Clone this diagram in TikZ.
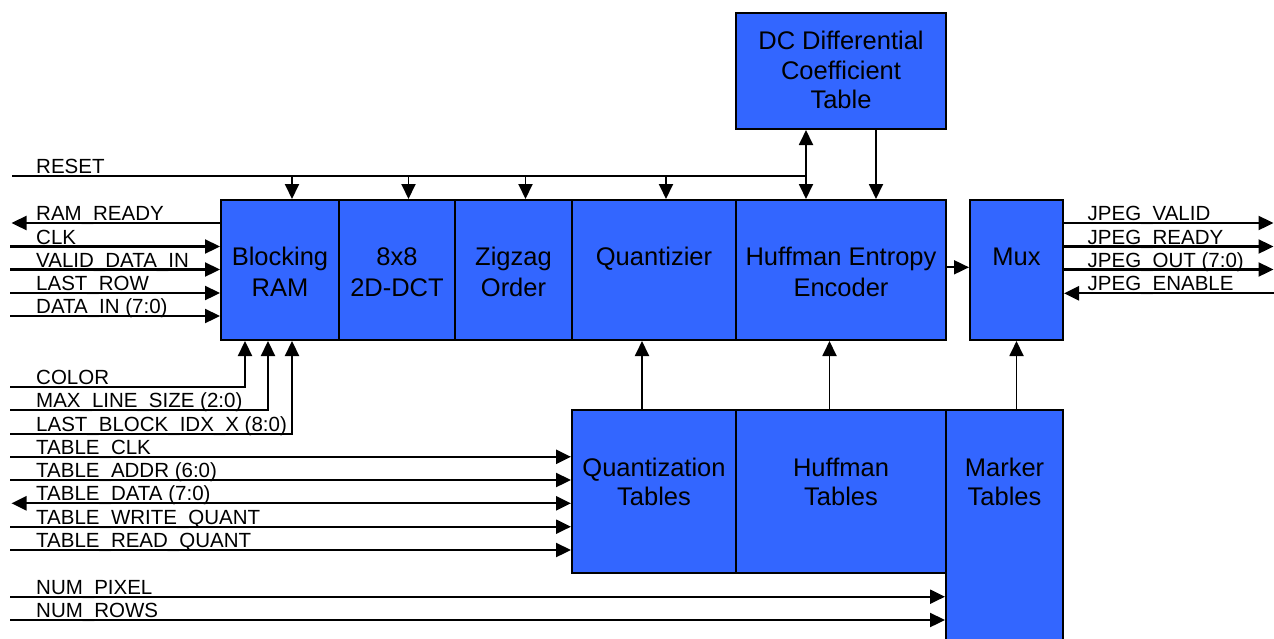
\documentclass[tikz,border=0pt]{standalone}
\usepackage{fontspec}
\setmainfont{Liberation Sans}
\usetikzlibrary{arrows.meta}
\definecolor{boxblue}{RGB}{51,102,255}
\begin{document}
\begin{tikzpicture}[x=1pt,y=-1pt,
  >={Triangle[length=15pt,width=14pt]},
  box/.style={draw=black,fill=boxblue,line width=2pt,inner sep=0pt},
  btxt/.style={font=\fontsize{25.5}{30}\selectfont,anchor=base,inner sep=0pt},
  lbl/.style={font=\fontsize{20.5}{24}\selectfont,anchor=base west,inner sep=0pt},
  sig/.style={line width=2.3pt},
  vsig/.style={line width=1.9pt}]
\useasboundingbox (0,0) rectangle (1274,638);

% ---------- blocks ----------
\node[box,minimum width=118pt,minimum height=140pt] (bram) at (280,270) {};
\node[box,minimum width=116pt,minimum height=140pt] (dct)  at (397,270) {};
\node[box,minimum width=117pt,minimum height=140pt] (zig)  at (513.5,270) {};
\node[box,minimum width=164pt,minimum height=140pt] (quant) at (654,270) {};
\node[box,minimum width=210pt,minimum height=140pt] (huff) at (841,270) {};
\node[box,minimum width=93pt,minimum height=140pt]  (mux)  at (1016.5,270) {};
\node[box,minimum width=210pt,minimum height=116pt] (dc)   at (841,71) {};
\node[box,minimum width=164pt,minimum height=163pt] (qt)   at (654,491.5) {};
\node[box,minimum width=210pt,minimum height=163pt] (ht)   at (841,491.5) {};
\node[box,minimum width=117pt,minimum height=235pt] (mt)   at (1004.5,527.5) {};

% ---------- block texts ----------
\node[btxt] (t1a) at (280,265) {Blocking};
\node[btxt] (t1b) at (280,296) {RAM};
\node[btxt] (t2a) at (397,265) {8x8};
\node[btxt] (t2b) at (397,296) {2D-DCT};
\node[btxt] (t3a) at (513.5,265) {Zigzag};
\node[btxt] (t3b) at (513.5,296) {Order};
\node[btxt] (t4a) at (654,265) {Quantizier};
\node[btxt] (t5a) at (841,265) {Huffman Entropy};
\node[btxt] (t5b) at (841,296) {Encoder};
\node[btxt] (t6a) at (1016.5,265) {Mux};
\node[btxt] (t7a) at (841,49.5) {DC Differential};
\node[btxt] (t7b) at (841,79) {Coefficient};
\node[btxt] (t7c) at (841,108.5) {Table};
\node[btxt] (t8a) at (654,476) {Quantization};
\node[btxt] (t8b) at (654,505.5) {Tables};
\node[btxt] (t9a) at (841,476) {Huffman};
\node[btxt] (t9b) at (841,505.5) {Tables};
\node[btxt] (t10a) at (1004.5,476) {Marker};
\node[btxt] (t10b) at (1004.5,505.5) {Tables};

% ---------- free ends ----------
\coordinate (iRST) at (12,176);
\coordinate (iRR)  at (11.5,223);
\coordinate (iCLK) at (10,246.5);
\coordinate (iVAL) at (10,269.5);
\coordinate (iLR)  at (10,293);
\coordinate (iDIN) at (10,316);
\coordinate (iCOL) at (10,387);
\coordinate (iMAX) at (10,410.3);
\coordinate (iLB)  at (10,433.7);
\coordinate (iTCLK) at (10,456.8);
\coordinate (iTADR) at (10,480);
\coordinate (iTDAT) at (11.5,503.3);
\coordinate (iTWR) at (10,526.7);
\coordinate (iTRD) at (10,550);
\coordinate (iNP)  at (10,596.7);
\coordinate (iNR)  at (10,620);
\coordinate (oJV)  at (1273.5,223);
\coordinate (oJR)  at (1273.5,246.5);
\coordinate (oJO)  at (1273.5,269.5);
\coordinate (oJE)  at (1274,293.3);

% attachment points
\coordinate (aB) at ([xshift=12pt]bram.north);
\coordinate (aD) at ([xshift=11.5pt]dct.north);
\coordinate (aZ) at ([xshift=12pt]zig.north);
\coordinate (aQ) at ([xshift=12pt]quant.north);
\coordinate (aH) at ([xshift=-35pt]huff.north);
\coordinate (aDC) at ([xshift=-35pt]dc.south);
\coordinate (aDC2) at ([xshift=35pt]dc.south);
\coordinate (aH2) at ([xshift=35pt]huff.north);
\coordinate (bC) at ([xshift=-35pt]bram.south);
\coordinate (bM) at ([xshift=-12pt]bram.south);
\coordinate (bL) at ([xshift=12pt]bram.south);
\coordinate (qU) at ([xshift=-12pt]quant.south);
\coordinate (qD) at ([xshift=-12pt]qt.north);
\coordinate (hU) at ([xshift=-11.5pt]huff.south);
\coordinate (hD) at ([xshift=-11.5pt]ht.north);

% ---------- RESET ----------
\draw[vsig] (iRST) -- (aH |- iRST);
\draw[vsig,->] (aB |- iRST) -- (aB);
\draw[vsig,->] (aD |- iRST) -- (aD);
\draw[vsig,->] (aZ |- iRST) -- (aZ);
\draw[vsig,->] (aQ |- iRST) -- (aQ);
\draw[vsig,<->] (aDC) -- (aH);
\draw[vsig,->] (aDC2) -- (aH2);
\node[lbl] (lRST) at (36,173.5) {RESET};

% ---------- left inputs to Blocking RAM ----------
\draw[sig,->] (bram.west |- iRR) -- (iRR);
\draw[sig,->] (iCLK) -- (iCLK -| bram.west);
\draw[sig,->] (iVAL) -- (iVAL -| bram.west);
\draw[sig,->] (iLR) -- (iLR -| bram.west);
\draw[sig,->] (iDIN) -- (iDIN -| bram.west);
\node[lbl] (lRR)  at (36,220.5) {RAM\_READY};
\node[lbl] (lCLK) at (36,244) {CLK};
\node[lbl] (lVAL) at (36,267) {VALID\_DATA\_IN};
\node[lbl] (lLR)  at (36,290.5) {LAST\_ROW};
\node[lbl] (lDIN) at (36,313.5) {DATA\_IN (7:0)};

% ---------- bottom inputs to Blocking RAM ----------
\draw[sig,->] (iCOL) -| (bC);
\draw[sig,->] (iMAX) -| (bM);
\draw[sig,->] (iLB) -| (bL);
\node[lbl] (lCOL) at (36,384.5) {COLOR};
\node[lbl] (lMAX) at (36,407.8) {MAX\_LINE\_SIZE (2:0)};
\node[lbl] (lLB)  at (36,431.2) {LAST\_BLOCK\_IDX\_X (8:0)};

% ---------- table inputs ----------
\draw[sig,->] (iTCLK) -- (iTCLK -| qt.west);
\draw[sig,->] (iTADR) -- (iTADR -| qt.west);
\draw[sig,<->] (iTDAT) -- (iTDAT -| qt.west);
\draw[sig,->] (iTWR) -- (iTWR -| qt.west);
\draw[sig,->] (iTRD) -- (iTRD -| qt.west);
\node[lbl] (lTCLK) at (36,454.3) {TABLE\_CLK};
\node[lbl] (lTADR) at (36,477.5) {TABLE\_ADDR (6:0)};
\node[lbl] (lTDAT) at (36,500.8) {TABLE\_DATA (7:0)};
\node[lbl] (lTWR)  at (36,524.2) {TABLE\_WRITE\_QUANT};
\node[lbl] (lTRD)  at (36,547.5) {TABLE\_READ\_QUANT};

% ---------- marker inputs ----------
\draw[sig,->] (iNP) -- (iNP -| mt.west);
\draw[sig,->] (iNR) -- (iNR -| mt.west);
\node[lbl] (lNP) at (36,594.2) {NUM\_PIXEL};
\node[lbl] (lNR) at (36,617.5) {NUM\_ROWS};

% ---------- internal connectors ----------
\draw[vsig,->] (huff.east |- 0,267.3) -- (mux.west |- 0,267.3);
\draw[vsig,->] (qD) -- (qU);
\draw[vsig,->] (hD) -- (hU);
\draw[vsig,->] (mux.south |- mt.north) -- (mux.south);

% ---------- outputs ----------
\draw[sig,->] (mux.east |- oJV) -- (oJV);
\draw[sig,->] (mux.east |- oJR) -- (oJR);
\draw[sig,->] (mux.east |- oJO) -- (oJO);
\draw[sig,->] (oJE) -- (oJE -| mux.east);
\node[lbl] (lJV) at (1087.5,220.5) {JPEG\_VALID};
\node[lbl] (lJR) at (1087.5,244) {JPEG\_READY};
\node[lbl] (lJO) at (1087.5,267) {JPEG\_OUT (7:0)};
\node[lbl] (lJE) at (1087.5,290.8) {JPEG\_ENABLE};
\end{tikzpicture}
\end{document}
